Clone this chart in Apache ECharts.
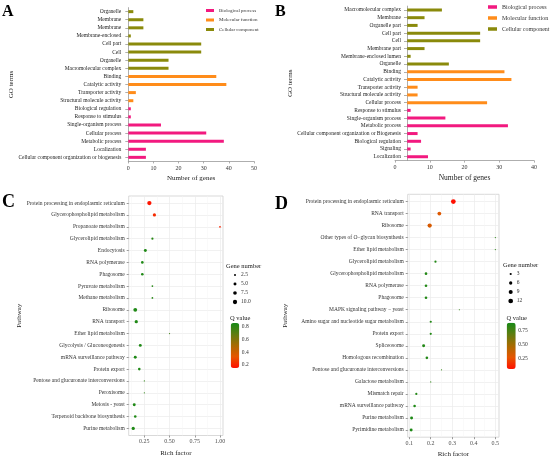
<!DOCTYPE html>
<html>
<head>
<meta charset="utf-8">
<script src="https://cdn.jsdelivr.net/npm/echarts@6/dist/echarts.min.js"></script>
<style>
html, body { margin: 0; padding: 0; background: #fff; }
#main { width: 550px; height: 456px; }
</style>
</head>
<body>
<div id="main"></div>
<script>
// ---- panel A: GO terms (bar) ----
var termsA = ['Organelle', 'Membrane', 'Membrane', 'Membrane-enclosed', 'Cell part', 'Cell', 'Organelle',
    'Macromolecular complex', 'Binding', 'Catalytic activity', 'Transporter activity',
    'Structural molecule activity', 'Biological regulation', 'Response to stimulus',
    'Single-organism process', 'Cellular process', 'Metabolic process', 'Localization',
    'Cellular component organization or biogenesis'];
var groupA = ['CC', 'CC', 'CC', 'CC', 'CC', 'CC', 'CC', 'CC', 'MF', 'MF', 'MF', 'MF',
    'BP', 'BP', 'BP', 'BP', 'BP', 'BP', 'BP'];
var countsA = [2, 6, 6, 1, 29, 29, 16, 16, 35, 39, 3, 2, 1, 1, 13, 31, 38, 7, 7];
var ticksA = [0, 10, 20, 30, 40, 50];

// ---- panel B: GO terms (bar) ----
var termsB = ['Macromolecular complex', 'Membrane', 'Organelle part', 'Cell part', 'Cell', 'Membrane part',
    'Membrane-enclosed lumen', 'Organelle', 'Binding', 'Catalytic activity', 'Transporter activity',
    'Structural molecule activity', 'Cellular process', 'Response to stimulus', 'Single-organism process',
    'Metabolic process', 'Cellular component organization or Biogenesis', 'Biological regulation',
    'Signaling', 'Localization'];
var groupB = ['CC', 'CC', 'CC', 'CC', 'CC', 'CC', 'CC', 'CC', 'MF', 'MF', 'MF', 'MF', 'MF',
    'BP', 'BP', 'BP', 'BP', 'BP', 'BP', 'BP'];
var countsB = [13.5, 8.5, 6.5, 24.5, 24.5, 8.5, 4.5, 15.5, 31.5, 33.5, 6.5, 6.5, 26.5,
    4.5, 14.5, 32.5, 6.5, 7.5, 4.5, 9.5];
var ticksB = [0, 10, 20, 30, 40];
var barStartB = 3.5;

// ---- panel C: KEGG enrichment (dots) ----
var pathwaysC = ['Protein processing in endoplasmic reticulum', 'Glycerophospholipid metabolism',
    'Propanoate metabolism', 'Glycerolipid metabolism', 'Endocytosis', 'RNA polymerase', 'Phagosome',
    'Pyruvate metabolism', 'Methane metabolism', 'Ribosome', 'RNA transport', 'Ether lipid metabolism',
    'Glycolysis / Gluconeogenesis', 'mRNA surveillance pathway', 'Protein export',
    'Pentose and glucuronate interconversions', 'Peroxisome', 'Meiosis - yeast',
    'Terpenoid backbone biosynthesis', 'Purine metabolism'];
var richC = [0.30, 0.35, 1.00, 0.33, 0.26, 0.23, 0.23, 0.33, 0.33, 0.16, 0.17, 0.50,
    0.21, 0.16, 0.20, 0.25, 0.25, 0.15, 0.16, 0.14];
var geneC = [10, 6, 2, 3, 5, 4, 4, 2, 2, 8, 6, 1, 5, 5, 4, 1, 1, 5, 4, 6];
var qC = [0.16, 0.22, 0.20, 0.82, 0.84, 0.84, 0.84, 0.82, 0.82, 0.84, 0.84, 0.76,
    0.84, 0.84, 0.84, 0.80, 0.80, 0.84, 0.84, 0.84];
var ticksC = [0.25, 0.50, 0.75, 1.00];
var minorC = [0.125, 0.375, 0.625, 0.875];
var sizeKeysC = [2.5, 5.0, 7.5, 10.0];
var qTicksC = [0.2, 0.4, 0.6, 0.8];

// ---- panel D: KEGG enrichment (dots) ----
var pathwaysD = ['Protein processing in endoplasmic reticulum', 'RNA transport', 'Ribosome',
    'Other types of O\u2212glycan biosynthesis', 'Ether lipid metabolism', 'Glycerolipid metabolism',
    'Glycerophospholipid metabolism', 'RNA polymerase', 'Phagosome', 'MAPK signaling pathway \u2212 yeast',
    'Amino sugar and nucleotide sugar metabolism', 'Protein export', 'Spliceosome',
    'Homologous recombination', 'Pentose and glucuronate interconversions', 'Galactose metabolism',
    'Mismatch repair', 'mRNA surveillance pathway', 'Purine metabolism', 'Pyrimidine metabolism'];
var richD = [0.305, 0.240, 0.195, 0.500, 0.500, 0.222, 0.178, 0.178, 0.178, 0.333,
    0.200, 0.200, 0.167, 0.182, 0.250, 0.200, 0.133, 0.125, 0.111, 0.109];
var geneD = [12, 8, 10, 1, 1, 3, 4, 4, 4, 1, 3, 3, 5, 4, 1, 1, 3, 4, 5, 5];
var qD = [0.05, 0.30, 0.32, 0.82, 0.82, 0.85, 0.85, 0.85, 0.85, 0.80,
    0.85, 0.85, 0.85, 0.85, 0.80, 0.82, 0.85, 0.86, 0.86, 0.86];
var ticksD = [0.1, 0.2, 0.3, 0.4, 0.5];
var minorD = [0.15, 0.25, 0.35, 0.45];
var sizeKeysD = [3, 6, 9, 12];
var qTicksD = [0.25, 0.50, 0.75];

var FONT = 'Liberation Serif';
var colBP = '#f2197f', colMF = '#ff8c1a', colCC = '#8a8a0b';
var qColors = ['#ff1000', '#e65500', '#a86a00', '#5f7d10', '#178a17'];

function pick(counts, groups, g) {
    return counts.map(function (v, i) { return groups[i] === g ? v : null; });
}
function dotSize(v) {
    return Math.max(1.2, 1.45 * Math.sqrt(v[2]) - 0.3);
}
function idx(arr) {
    return arr.map(function (d, i) { return i; });
}

function barSeries(name, color, axis, counts, groups, g) {
    return {
        type: 'bar', name: name, xAxisIndex: axis, yAxisIndex: axis,
        data: pick(counts, groups, g), barWidth: 3, barGap: '-100%',
        itemStyle: { color: color }, silent: true
    };
}

function barXAxis(grid, ticks, extra) {
    var ax = {
        type: 'value', gridIndex: grid, min: ticks[0], max: ticks[ticks.length - 1], interval: 10,
        name: 'Number of genes', nameLocation: 'middle', nameGap: 13,
        nameTextStyle: { fontFamily: FONT, fontSize: 7, color: '#222' },
        axisLine: { show: true, onZero: false, lineStyle: { color: '#999', width: 0.8 } },
        axisTick: { show: true, length: 2, lineStyle: { color: '#999', width: 0.8 } },
        axisLabel: { fontFamily: FONT, fontSize: 6, color: '#333', margin: 4 },
        splitLine: { show: false }
    };
    return Object.assign(ax, extra || {});
}

function barYAxis(grid, terms, margin, gap, extra) {
    var ax = {
        type: 'category', gridIndex: grid, data: terms, inverse: true,
        name: 'GO terms', nameLocation: 'middle', nameRotate: 90, nameGap: gap,
        nameTextStyle: { fontFamily: FONT, fontSize: 7, color: '#222' },
        axisLine: { show: true, onZero: false, lineStyle: { color: '#999', width: 0.8 } },
        axisTick: { show: true, length: 3, alignWithLabel: true, lineStyle: { color: '#999', width: 0.8 } },
        axisLabel: { interval: 0, fontFamily: FONT, fontSize: 5.5, color: '#222', margin: margin },
        splitLine: { show: false }
    };
    return Object.assign(ax, extra || {});
}

function dotXAxis(grid, ticks, lo, hi) {
    return {
        type: 'value', gridIndex: grid, min: lo, max: hi,
        name: 'Rich factor', nameLocation: 'middle', nameGap: 11,
        nameTextStyle: { fontFamily: FONT, fontSize: 7, color: '#222' },
        axisLine: { show: false, onZero: false },
        axisTick: { show: true, length: 2, customValues: ticks, lineStyle: { color: '#555', width: 0.6 } },
        axisLabel: {
            customValues: ticks, fontFamily: FONT, fontSize: 6, color: '#4d4d4d', margin: 3,
            formatter: function (v) { return ticks[0] < 0.2 ? v.toFixed(1) : v.toFixed(2); }
        },
        splitLine: { show: true, lineStyle: { color: '#ebebeb', width: 0.7 } }
    };
}

function minorXAxis(grid, minors, lo, hi) {
    return {
        type: 'value', gridIndex: grid, min: lo, max: hi,
        axisLine: { show: false, onZero: false }, axisLabel: { show: false },
        axisTick: { show: false, customValues: minors },
        splitLine: { show: true, lineStyle: { color: '#f4f4f4', width: 0.5 } }
    };
}

function dotYAxis(grid, names, gap, margin) {
    return {
        type: 'value', gridIndex: grid, min: -0.6, max: names.length - 0.4, inverse: true,
        name: 'Pathway', nameLocation: 'middle', nameRotate: 90, nameGap: gap,
        nameTextStyle: { fontFamily: FONT, fontSize: 7, color: '#222' },
        axisLine: { show: false, onZero: false },
        axisTick: { show: true, length: 2, customValues: idx(names), lineStyle: { color: '#555', width: 0.6 } },
        axisLabel: {
            customValues: idx(names), fontFamily: FONT, fontSize: 5.5, color: '#333', margin: margin,
            formatter: function (v) { return names[Math.round(v)]; }
        },
        splitLine: { show: true, lineStyle: { color: '#ebebeb', width: 0.7 } }
    };
}

function hiddenX(grid) {
    return { type: 'value', gridIndex: grid, min: -1, max: 1, show: false, axisLine: { onZero: false } };
}

function keyYAxis(grid, keys, digits) {
    return {
        type: 'category', gridIndex: grid, inverse: true, position: 'right',
        data: keys.map(function (k) { return k.toFixed(digits); }),
        axisLine: { show: false, onZero: false }, axisTick: { show: false }, splitLine: { show: false },
        axisLabel: { interval: 0, fontFamily: FONT, fontSize: 5.5, color: '#333', margin: 2 }
    };
}

function barYColorAxis(grid, ticks, lo, hi, digits) {
    return {
        type: 'value', gridIndex: grid, min: lo, max: hi, position: 'right',
        axisLine: { show: false, onZero: false }, splitLine: { show: false },
        axisTick: { show: true, inside: true, length: 2, customValues: ticks, lineStyle: { color: '#fff', width: 0.6 } },
        axisLabel: {
            customValues: ticks, fontFamily: FONT, fontSize: 5.5, color: '#333', margin: 2.5,
            formatter: function (v) { return v.toFixed(digits); }
        }
    };
}

var chart = echarts.init(document.getElementById('main'), null, { renderer: 'canvas' });

var letterStyle = { fontFamily: FONT, fontWeight: 'bold', color: '#000' };
var smallTitle = { fontFamily: FONT, fontSize: 6.5, fontWeight: 'normal', color: '#222' };

var option = {
    animation: false,
    backgroundColor: '#fff',
    textStyle: { fontFamily: FONT },
    title: [
        { text: 'A', left: 2, top: 4, padding: 0, textStyle: Object.assign({ fontSize: 16 }, letterStyle) },
        { text: 'B', left: 275, top: 4, padding: 0, textStyle: Object.assign({ fontSize: 16 }, letterStyle) },
        { text: 'C', left: 2, top: 193, padding: 0, textStyle: Object.assign({ fontSize: 18 }, letterStyle) },
        { text: 'D', left: 275, top: 195, padding: 0, textStyle: Object.assign({ fontSize: 18 }, letterStyle) },
        { text: 'Gene number', left: 226, top: 263, padding: 0, textStyle: smallTitle },
        { text: 'Q value', left: 230, top: 314.5, padding: 0, textStyle: smallTitle },
        { text: 'Gene number', left: 503, top: 262, padding: 0, textStyle: smallTitle },
        { text: 'Q value', left: 506.5, top: 314.5, padding: 0, textStyle: smallTitle }
    ],
    legend: [
        {
            data: ['Biological process', 'Molecular function', 'Cellular component'],
            orient: 'vertical', left: 206, top: 8, padding: 0, icon: 'rect',
            itemWidth: 8, itemHeight: 3, itemGap: 4.5, selectedMode: false,
            textStyle: { fontFamily: FONT, fontSize: 5, color: '#333' }
        },
        {
            data: ['Biological process', 'Molecular function', 'Cellular component'],
            orient: 'vertical', left: 488, top: 4, padding: 0, icon: 'rect',
            itemWidth: 9, itemHeight: 3.5, itemGap: 5, selectedMode: false,
            textStyle: { fontFamily: FONT, fontSize: 6, color: '#333' }
        }
    ],
    grid: [
        { left: 128.3, top: 7.6, width: 125.7, height: 153.8, outerBoundsMode: 'none' },
        { left: 395, top: 6.1, width: 139, height: 154.5, outerBoundsMode: 'none' },
        { left: 128.7, top: 196, width: 94.3, height: 239.5, show: true, borderColor: '#cfcfcf', borderWidth: 0.8, backgroundColor: '#fff', outerBoundsMode: 'none' },
        { left: 407.7, top: 194.3, width: 91.3, height: 242.9, show: true, borderColor: '#cfcfcf', borderWidth: 0.8, backgroundColor: '#fff', outerBoundsMode: 'none' },
        { left: 231, top: 270.5, width: 8, height: 36, outerBoundsMode: 'none' },
        { left: 230.7, top: 323, width: 8.6, height: 45, outerBoundsMode: 'none' },
        { left: 506.7, top: 269.5, width: 8, height: 36, outerBoundsMode: 'none' },
        { left: 506.7, top: 322.7, width: 9, height: 46.3, outerBoundsMode: 'none' }
    ],
    xAxis: [
        barXAxis(0, ticksA),
        barXAxis(1, ticksB, { startValue: barStartB, nameTextStyle: { fontFamily: FONT, fontSize: 7.5, color: '#222' } }),
        dotXAxis(2, ticksC, 0.095, 1.03),
        dotXAxis(3, ticksD, 0.093, 0.517),
        hiddenX(4), hiddenX(5), hiddenX(6), hiddenX(7),
        minorXAxis(2, minorC, 0.095, 1.03),
        minorXAxis(3, minorD, 0.093, 0.517)
    ],
    yAxis: [
        barYAxis(0, termsA, 7, 103),
        barYAxis(1, termsB, 6, 100, { offset: -12 }),
        dotYAxis(2, pathwaysC, 106, 4),
        dotYAxis(3, pathwaysD, 119, 4),
        keyYAxis(4, sizeKeysC, 1),
        barYColorAxis(5, qTicksC, 0.15, 0.86, 1),
        keyYAxis(6, sizeKeysD, 0),
        barYColorAxis(7, qTicksD, 0.07, 0.88, 2)
    ],
    visualMap: [
        {
            type: 'continuous', seriesIndex: 6, dimension: 3, min: 0.15, max: 0.86,
            inRange: { color: qColors }, calculable: false, orient: 'vertical',
            left: 230.7, top: 323, itemWidth: 8.6, itemHeight: 45, padding: 0, hoverLink: false
        },
        {
            type: 'continuous', seriesIndex: 7, dimension: 3, min: 0.07, max: 0.88,
            inRange: { color: qColors }, calculable: false, orient: 'vertical',
            left: 506.7, top: 322.7, itemWidth: 9, itemHeight: 46.3, padding: 0, hoverLink: false
        }
    ],
    series: [
        barSeries('Biological process', colBP, 0, countsA, groupA, 'BP'),
        barSeries('Molecular function', colMF, 0, countsA, groupA, 'MF'),
        barSeries('Cellular component', colCC, 0, countsA, groupA, 'CC'),
        barSeries('Biological process', colBP, 1, countsB, groupB, 'BP'),
        barSeries('Molecular function', colMF, 1, countsB, groupB, 'MF'),
        barSeries('Cellular component', colCC, 1, countsB, groupB, 'CC'),
        {
            type: 'scatter', xAxisIndex: 2, yAxisIndex: 2, silent: true,
            data: pathwaysC.map(function (p, i) { return [richC[i], i, geneC[i], qC[i]]; }),
            symbolSize: dotSize, itemStyle: { opacity: 1 }
        },
        {
            type: 'scatter', xAxisIndex: 3, yAxisIndex: 3, silent: true,
            data: pathwaysD.map(function (p, i) { return [richD[i], i, geneD[i], qD[i]]; }),
            symbolSize: dotSize, itemStyle: { opacity: 1 }
        },
        {
            type: 'scatter', xAxisIndex: 4, yAxisIndex: 4, silent: true,
            data: sizeKeysC.map(function (g, i) { return [0, i, g]; }),
            symbolSize: dotSize, itemStyle: { color: '#000', opacity: 1 }
        },
        { type: 'scatter', xAxisIndex: 5, yAxisIndex: 5, data: [] },
        {
            type: 'scatter', xAxisIndex: 6, yAxisIndex: 6, silent: true,
            data: sizeKeysD.map(function (g, i) { return [0, i, g]; }),
            symbolSize: dotSize, itemStyle: { color: '#000', opacity: 1 }
        },
        { type: 'scatter', xAxisIndex: 7, yAxisIndex: 7, data: [] }
    ]
};

chart.setOption(option);
</script>
</body>
</html>
